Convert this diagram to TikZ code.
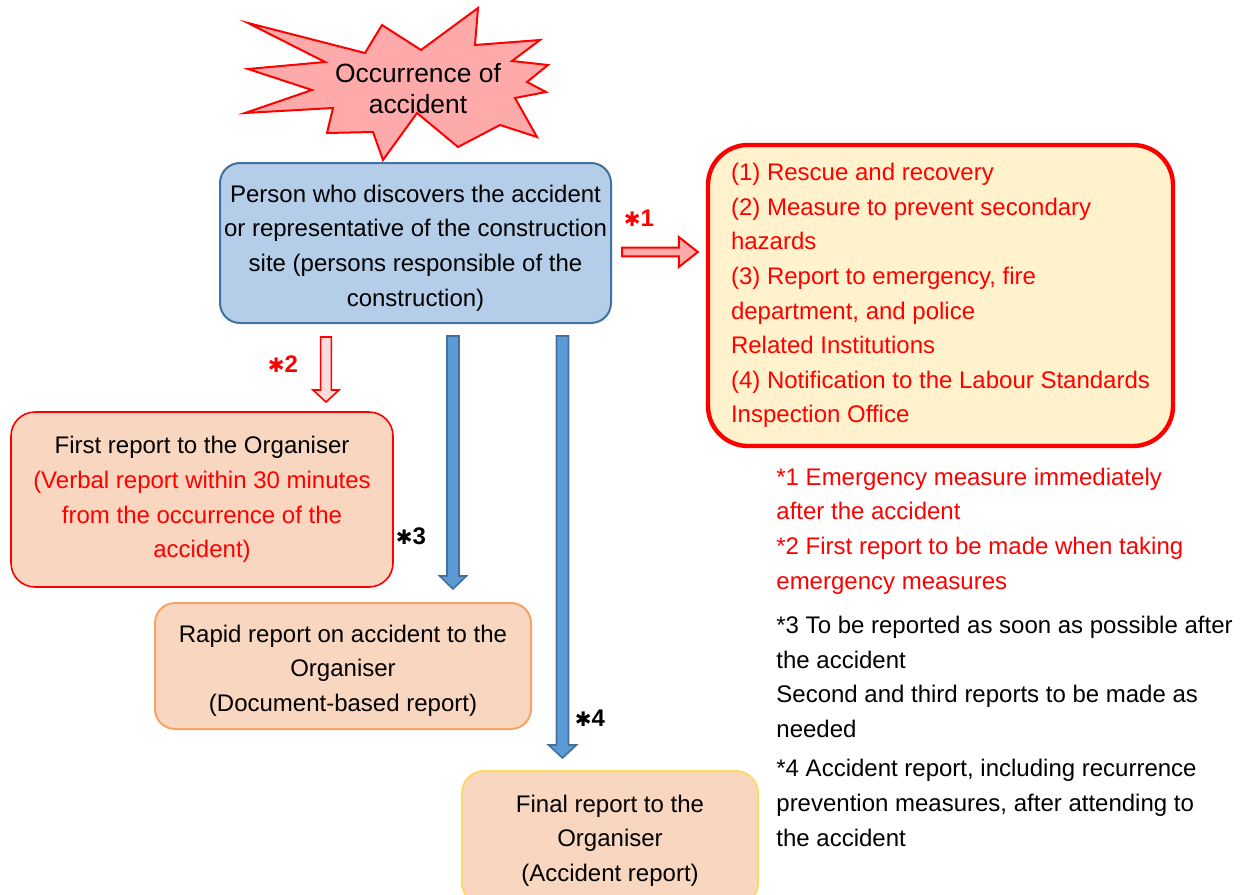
\documentclass[tikz,border=0pt]{standalone}
\usepackage{fontspec}
\setmainfont{Liberation Sans}
\newfontfamily\symfont{DejaVu Sans}
\usetikzlibrary{calc}
\definecolor{boxblue}{HTML}{B4CDE8}
\definecolor{lineblue}{HTML}{41719C}
\definecolor{arrowblue}{HTML}{5B9BD5}
\definecolor{peach}{HTML}{F9D6BF}
\definecolor{cream}{HTML}{FFF2CC}
\definecolor{starpink}{HTML}{FFAAAA}
\definecolor{lightpink}{HTML}{FFDCDC}
\definecolor{orangeline}{HTML}{F4A466}
\definecolor{yellowline}{HTML}{FFD966}
\tikzset{
  txt/.style={font=\fontsize{12}{17.3}\selectfont, align=center, inner sep=0pt},
  note/.style={txt, align=left, anchor=west},
  marklbl/.style={inner sep=0pt, font=\fontsize{12}{14}\selectfont\bfseries},
  burst/.style={draw=red, fill=starpink, line width=1pt},
  personbox/.style={draw=lineblue, fill=boxblue, line width=1pt, rounded corners=10pt},
  todobox/.style={txt, align=left, text=red, draw=red, fill=cream, line width=2.2pt,
    rounded corners=20pt},
  firstbox/.style={txt, draw=red, fill=peach, line width=0.8pt, rounded corners=12pt},
  rapidbox/.style={draw=orangeline, fill=peach, line width=1pt, rounded corners=10pt},
  finalbox/.style={draw=yellowline, fill=peach, line width=1pt, rounded corners=11pt},
  redarrow/.style={draw=red, fill=starpink, line width=1pt},
  paleredarrow/.style={draw=red, fill=lightpink, line width=0.8pt},
  bluearrow/.style={draw=lineblue, fill=arrowblue, line width=0.8pt}
}
% style, from, to, shaft half width, head half width, head length
\newcommand{\blockarrow}[6]{%
  \coordinate (ba-h) at ($(#3)!#6!(#2)$);
  \draw[#1] ($(#2)!#4!90:(#3)$) -- ($(ba-h)!#4!-90:(#2)$) -- ($(ba-h)!#5!-90:(#2)$)
    -- (#3) -- ($(ba-h)!#5!90:(#2)$) -- ($(ba-h)!#4!90:(#2)$) -- ($(#2)!#4!-90:(#3)$) -- cycle;}
\newcommand{\heavyast}{{\symfont\fontsize{10}{12}\selectfont ✱}}

\begin{document}
\begin{tikzpicture}[x=0.5pt, y=-0.5pt]
    \useasboundingbox (0,0) rectangle (1246,894);
    \draw[burst] (248,23) -- (365,53) -- (382,25) -- (421,50) -- (478,8) -- (475,45)
      -- (540,40) -- (512,61) -- (548,65) -- (527,82) -- (546,92) -- (515,98)
      -- (537,137) -- (500,125) -- (458,147) -- (417,113) -- (383,160) -- (373,132)
      -- (327,133) -- (333,108) -- (245,113) -- (312,90) -- (248,69) -- (325,62) -- cycle;
    \node[txt, font=\fontsize{13.2}{15.5}\selectfont] (occ) at (418,88.5) {Occurrence of\\accident};

    \node[personbox, minimum width=195.5pt, minimum height=80pt] (person) at (415.5,243) {};
    \node[txt] (persontxt) at (415.5,248)
      {Person who discovers the accident\\or representative of the construction\\site (persons responsible of the\\construction)};
    \node[todobox, minimum width=232.5pt, minimum height=150.5pt] (todo) at (940.5,295.5)
      {(1) Rescue and recovery\\(2) Measure to prevent secondary\\hazards\\(3) Report to emergency, fire\\department, and police\\Related Institutions\\(4) Notification to the Labour Standards\\Inspection Office};
    \node[firstbox, minimum width=191pt, minimum height=87.5pt] (first) at (202,499.5)
      {First report to the Organiser\\\textcolor{red}{(Verbal report within 30 minutes}\\\textcolor{red}{from the occurrence of the}\\\textcolor{red}{accident)}};
    \node[rapidbox, minimum width=188pt, minimum height=63pt] (rapid) at (343,666) {};
    \node[txt] (rapidtxt) at (343,670.5)
      {Rapid report on accident to the\\Organiser\\(Document-based report)};
    \node[finalbox, minimum width=148pt, minimum height=67pt] (final) at (610,838) {};
    \node[txt] (finaltxt) at (610,840.5)
      {Final report to the\\Organiser\\(Accident report)};

    \coordinate (r1s) at ([xshift=5pt]person.east |- 0,252);
    \coordinate (r1e) at ([xshift=-4pt]todo.west |- 0,252);
    \blockarrow{redarrow}{r1s}{r1e}{2.2pt}{7.5pt}{9.5pt}
    \coordinate (r2s) at (326,337);
    \coordinate (r2e) at (326,402);
    \blockarrow{paleredarrow}{r2s}{r2e}{2.7pt}{6.5pt}{6pt}
    \coordinate (b1s) at (453,336);
    \coordinate (b1e) at (453,589);
    \blockarrow{bluearrow}{b1s}{b1e}{3pt}{6.7pt}{6.5pt}
    \coordinate (b2s) at (562.5,336);
    \coordinate (b2e) at (562.5,758);
    \blockarrow{bluearrow}{b2s}{b2e}{3pt}{7pt}{6.5pt}

    \node[marklbl, text=red] (m1) at (639,218) {\heavyast1};
    \node[marklbl, text=red] (m2) at (283,364) {\heavyast2};
    \node[marklbl] (m3) at (411,536) {\heavyast3};
    \node[marklbl] (m4) at (590,718) {\heavyast4};

    \node[note, text=red] (note1) at (776,494) {*1 Emergency measure immediately\\after the accident};
    \node[note, text=red] (note2) at (776,566) {*2 First report to be made when taking\\emergency measures};
    \node[note] (note3) at (776,677) {*3 To be reported as soon as possible after\\the accident\\Second and third reports to be made as\\needed};
    \node[note] (note4) at (776,803) {*4 Accident report, including recurrence\\prevention measures, after attending to\\the accident};
\end{tikzpicture}
\end{document}
